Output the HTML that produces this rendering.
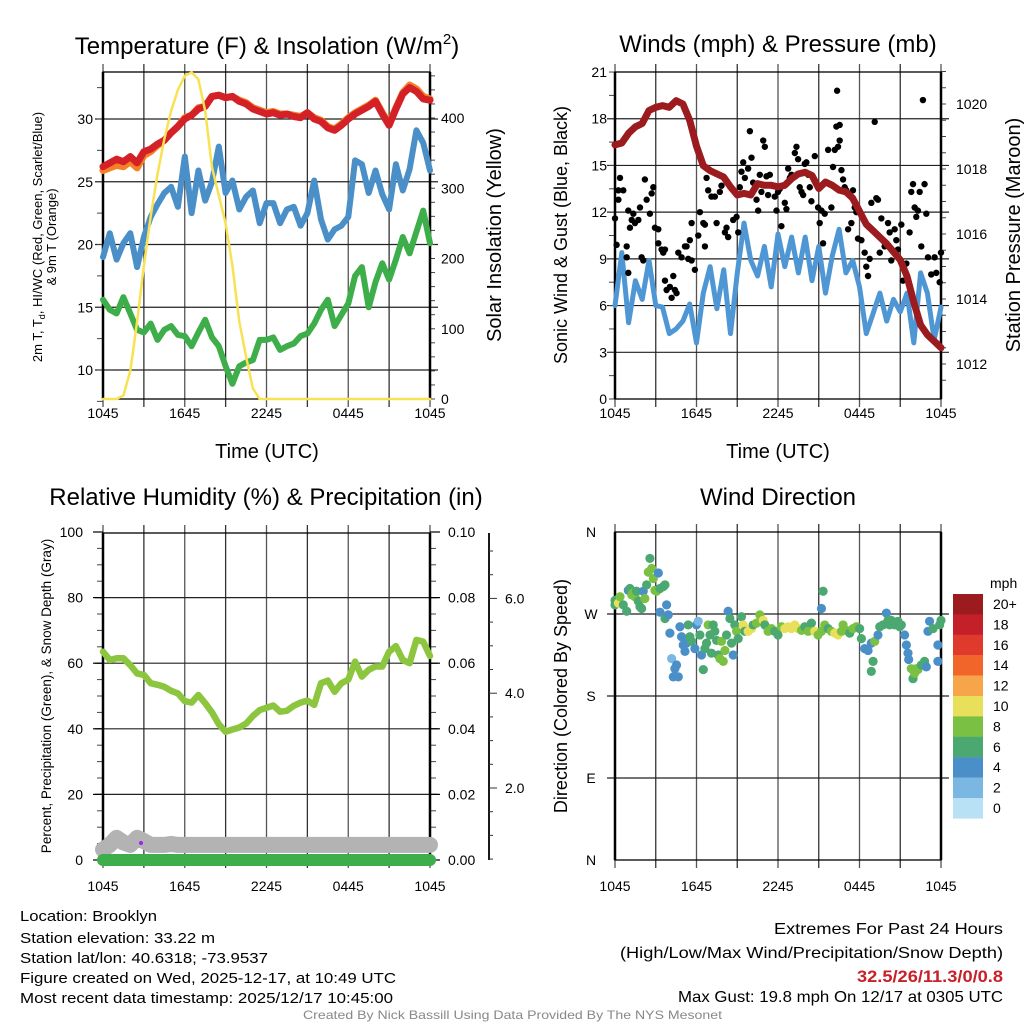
<!DOCTYPE html>
<html><head><meta charset="utf-8"><style>
html,body{margin:0;padding:0;background:#fff;}
svg{display:block;font-family:"Liberation Sans",Arial,sans-serif;}
</style></head><body>
<svg id="chart" width="1024" height="1024" viewBox="0 0 1024 1024" xmlns="http://www.w3.org/2000/svg">
<rect x="0" y="0" width="1024" height="1024" fill="#fff"/>
<text x="267" y="54" font-size="24" text-anchor="middle">Temperature (F) &amp; Insolation (W/m<tspan font-size="15" dy="-10">2</tspan><tspan dy="10">)</tspan></text>
<text x="778" y="52" font-size="24" text-anchor="middle">Winds (mph) &amp; Pressure (mb)</text>
<text x="266" y="505" font-size="24" text-anchor="middle">Relative Humidity (%) &amp; Precipitation (in)</text>
<text x="778" y="505" font-size="24" text-anchor="middle">Wind Direction</text>
<text x="267" y="458" font-size="20" text-anchor="middle">Time (UTC)</text>
<text x="778" y="458" font-size="20" text-anchor="middle">Time (UTC)</text>
<text transform="rotate(-90 42 237)" x="42" y="237" font-size="13" text-anchor="middle">2m T, T<tspan font-size="9" dy="3">d</tspan><tspan dy="-3">, HI/WC (Red, Green, Scarlet/Blue)</tspan></text>
<text transform="rotate(-90 56 237)" x="56" y="237" font-size="13" text-anchor="middle">&amp; 9m T (Orange)</text>
<text transform="rotate(-90 501 235)" x="501" y="235" font-size="20" text-anchor="middle">Solar Insolation (Yellow)</text>
<text transform="rotate(-90 567 235)" x="567" y="235" font-size="18" text-anchor="middle">Sonic Wind &amp; Gust (Blue, Black)</text>
<text transform="rotate(-90 1020 235)" x="1020" y="235" font-size="20" text-anchor="middle">Station Pressure (Maroon)</text>
<text transform="rotate(-90 51 696)" x="51" y="696" font-size="13.5" text-anchor="middle">Percent, Precipitation (Green), &amp; Snow Depth (Gray)</text>
<text transform="rotate(-90 567 696)" x="567" y="696" font-size="18" text-anchor="middle">Direction (Colored By Speed)</text>
<text x="20" y="921" font-size="15" textLength="137" lengthAdjust="spacingAndGlyphs">Location: Brooklyn</text>
<text x="20" y="943" font-size="15" textLength="195" lengthAdjust="spacingAndGlyphs">Station elevation: 33.22 m</text>
<text x="20" y="963" font-size="15" textLength="248" lengthAdjust="spacingAndGlyphs">Station lat/lon: 40.6318; -73.9537</text>
<text x="20" y="983" font-size="15" textLength="376" lengthAdjust="spacingAndGlyphs">Figure created on Wed, 2025-12-17, at 10:49 UTC</text>
<text x="20" y="1003" font-size="15" textLength="373" lengthAdjust="spacingAndGlyphs">Most recent data timestamp: 2025/12/17 10:45:00</text>
<text x="774" y="934" font-size="16" textLength="229" lengthAdjust="spacingAndGlyphs">Extremes For Past 24 Hours</text>
<text x="620" y="958" font-size="16" textLength="383" lengthAdjust="spacingAndGlyphs">(High/Low/Max Wind/Precipitation/Snow Depth)</text>
<text x="857" y="982" font-size="17" font-weight="bold" fill="#c8202a" textLength="146" lengthAdjust="spacingAndGlyphs">32.5/26/11.3/0/0.8</text>
<text x="678" y="1002" font-size="16" textLength="325" lengthAdjust="spacingAndGlyphs">Max Gust: 19.8 mph On 12/17 at 0305 UTC</text>
<text x="303" y="1019" font-size="12" fill="#888" textLength="419" lengthAdjust="spacingAndGlyphs">Created By Nick Bassill Using Data Provided By The NYS Mesonet</text>
</svg>
<script>
// ---------- data ----------
const timeLabels = ["1045","1645","2245","0445","1045"];
const tempTicks = [10,15,20,25,30];
const insolTicks = [0,100,200,300,400];
const windTicks = [0,3,6,9,12,15,18,21];
const presTicks = [1012,1014,1016,1018,1020];
const rhTicks = [0,20,40,60,80,100];
const precipTicks = ["0.00","0.02","0.04","0.06","0.08","0.10"];
const snowTicks = [2,4,6];
const dirTicks = ["N","E","S","W","N"];
// half-hourly series (index i -> i/2 hours after 1045 UTC)
const temp2m = [26.2,26.5,26.8,26.6,27.0,26.5,27.4,27.6,28.0,28.3,28.9,29.4,30.0,30.3,30.8,31.0,31.8,31.9,31.7,31.8,31.4,31.2,30.8,30.6,30.4,30.5,30.3,30.4,30.2,30.1,30.5,30.0,29.8,29.3,29.1,29.5,30.0,30.4,30.7,31.0,31.4,30.4,29.5,30.8,32.0,32.5,32.2,31.6,31.5];
const temp9m = [25.9,26.1,26.3,26.2,26.6,26.1,27.1,27.4,27.9,28.3,28.9,29.4,30.1,30.3,30.9,31.0,31.8,31.9,31.7,31.8,31.5,31.3,30.9,30.7,30.5,30.6,30.4,30.4,30.3,30.2,30.5,30.1,29.9,29.4,29.2,29.6,30.1,30.5,30.8,31.1,31.5,30.5,29.6,30.9,32.1,32.7,32.4,31.8,31.6];
const heatWindChill = [19.0,20.9,18.8,20.1,20.9,18.2,20.6,22.2,23.2,24.1,24.6,23.0,27.0,22.5,25.9,23.5,25.0,27.8,24.1,25.1,22.8,23.8,24.3,21.7,23.3,23.3,21.7,22.8,23.0,21.5,22.5,25.1,22.0,20.4,21.2,21.5,22.2,26.7,26.4,24.1,25.9,24.0,22.8,26.4,24.3,26.0,29.1,28.1,25.9];
const dewpoint = [15.6,14.8,14.5,15.8,14.5,13.2,13.0,13.7,12.4,13.2,13.5,12.8,12.7,11.9,13.0,14.0,12.6,11.9,10.3,8.9,10.3,10.6,10.8,12.4,12.4,12.6,11.6,11.9,12.1,12.7,12.9,13.7,14.8,15.6,13.5,14.4,15.3,17.5,18.2,15.0,17.0,18.5,17.2,18.8,20.6,19.3,21.0,22.7,20.1];
const insolation = [0,0,0,5,40,110,190,260,320,370,410,440,460,465,455,410,330,290,250,190,110,60,15,0,0,0,0,0,0,0,0,0,0,0,0,0,0,0,0,0,0,0,0,0,0,0,0,0,0];
const windSpeed = [6.0,9.4,4.9,7.6,6.4,8.9,6.0,5.9,4.2,4.5,5.0,6.1,3.6,6.8,8.5,5.8,8.3,4.2,8.1,11.3,8.9,7.9,9.8,7.2,10.6,8.5,10.4,8.1,10.4,7.6,9.8,6.8,9.2,10.9,8.1,8.9,7.2,4.2,5.5,6.8,5.0,6.4,5.6,6.8,3.6,8.1,6.8,3.8,5.9];
const pressure = [1018.74,1018.8,1019.1,1019.3,1019.4,1019.8,1019.9,1019.95,1019.9,1020.1,1020.0,1019.5,1018.7,1018.1,1017.95,1017.85,1017.75,1017.45,1017.2,1017.25,1017.2,1017.55,1017.5,1017.5,1017.45,1017.5,1017.7,1017.85,1017.9,1017.8,1017.4,1017.6,1017.5,1017.35,1017.3,1017.1,1016.7,1016.3,1016.1,1015.9,1015.7,1015.45,1015.2,1014.7,1013.9,1013.2,1012.9,1012.7,1012.5];
const gustHours = [0,0.12,0.25,0.37,0.25,0.61,0.98,0.86,0.86,0.98,1.1,1.23,1.35,1.47,1.72,1.84,1.96,2.08,2.2,2.33,2.57,2.7,2.82,2.94,3.19,3.19,3.43,3.55,3.68,3.68,3.8,4.04,4.17,4.29,4.41,4.53,4.66,4.9,5.15,5.27,5.39,5.51,5.64,5.64,5.88,6.13,6.25,6.5,6.62,6.62,6.74,6.86,7.1,7.35,7.48,7.72,7.84,8.09,8.21,8.33,8.7,8.95,9.07,9.19,9.31,9.44,9.56,9.8,9.93,10.05,10.17,10.42,10.54,10.66,10.78,10.91,11.03,11.15,11.27,11.4,11.76,11.89,12.0,12.13,12.25,12.5,12.62,12.75,12.87,12.99,13.24,13.36,13.48,13.6,13.73,13.85,13.97,14.09,14.22,14.34,14.46,14.71,14.95,15.07,15.2,15.32,15.44,15.69,15.93,16.05,16.18,16.3,16.35,16.42,16.54,16.54,16.67,16.79,16.91,17.03,17.16,17.4,17.52,17.65,17.77,17.89,18.14,18.38,18.5,18.63,18.75,18.87,19.12,19.24,19.36,19.49,19.61,19.85,20.1,20.22,20.34,20.59,20.71,20.83,21.08,21.2,21.45,21.69,21.81,21.94,22.06,22.18,22.3,22.43,22.55,22.67,22.79,22.92,23.04,23.28,23.53,23.65,23.9,24.0];
const gustMph = [11.6,9.9,13.4,14.2,12.8,13.4,12.1,9.8,9.1,8.1,11.0,11.5,11.9,11.3,11.5,12.3,9.1,8.9,14.1,12.8,11.9,13.2,13.6,11.0,10.9,10.0,9.6,9.4,9.6,7.6,7.0,7.2,6.5,7.9,7.0,6.8,9.4,9.1,9.8,9.8,9.0,10.2,11.3,8.9,8.3,10.5,12.0,11.3,9.8,11.2,14.2,13.4,13.0,13.0,11.3,13.3,13.7,10.7,11.0,10.4,11.5,11.7,10.7,13.6,14.6,15.2,14.2,14.8,17.2,15.5,13.9,12.8,12.1,14.4,13.3,16.6,16.2,14.3,13.1,14.4,13.0,12.1,13.3,13.5,11.1,12.6,12.2,14.8,14.2,14.4,15.8,16.2,15.4,13.6,13.3,13.1,15.1,15.2,14.4,13.6,12.7,15.6,12.3,11.3,12.1,10.0,11.9,16.0,12.3,14.9,16.0,17.5,19.8,16.2,17.6,16.6,14.7,14.1,13.6,13.4,10.9,11.3,13.4,12.3,12.0,10.3,10.2,9.4,8.5,7.9,9.0,12.6,17.8,12.9,12.8,9.4,11.6,9.8,11.3,10.7,8.9,10.9,10.2,9.6,11.2,7.6,8.7,10.7,13.3,13.8,12.3,11.7,12.1,13.3,9.8,19.2,13.8,11.9,9.1,8.0,9.1,8.1,7.5,9.4];
const humidity = [63.5,61.0,61.5,61.5,59.4,56.9,56.4,53.9,53.4,52.8,51.6,50.8,48.4,48.0,50.3,47.8,45.0,41.4,39.1,39.8,40.4,41.6,43.9,45.7,46.4,47.1,45.2,45.5,47.0,48.0,48.6,47.3,53.9,54.7,51.3,53.9,55.0,60.5,55.9,58.0,59.0,59.0,63.5,65.2,61.0,60.0,67.1,66.6,62.2];
const snowDepth = [0.7,0.8,0.95,0.85,0.8,0.95,0.88,0.8,0.8,0.8,0.82,0.8,0.8,0.8,0.8,0.8,0.8,0.8,0.8,0.8,0.8,0.8,0.8,0.8,0.8,0.8,0.8,0.8,0.8,0.8,0.8,0.8,0.8,0.8,0.8,0.8,0.8,0.8,0.8,0.8,0.8,0.8,0.8,0.8,0.8,0.8,0.8,0.8,0.8];
const precip = [0,0,0,0,0,0,0,0,0,0,0,0,0,0,0,0,0,0,0,0,0,0,0,0,0,0,0,0,0,0,0,0,0,0,0,0,0,0,0,0,0,0,0,0,0,0,0,0,0];
const dirHours = [0,0,0.25,0.37,0.61,0.86,0.98,1.1,1.23,1.35,1.47,1.59,1.72,1.84,1.96,2.08,2.2,2.33,2.45,2.57,2.7,2.82,2.94,3.06,3.19,3.31,3.55,3.68,3.31,3.8,3.68,3.92,4.04,4.17,4.41,4.53,4.29,4.66,4.78,4.9,5.02,5.15,5.27,5.39,5.51,5.64,5.88,6.0,6.13,6.25,6.37,6.5,6.62,6.74,6.86,6.99,7.1,7.23,7.35,7.48,7.6,7.72,7.84,7.97,8.09,8.21,8.33,8.46,8.58,8.7,8.82,8.95,9.07,9.31,9.44,9.56,9.8,10.05,10.17,10.42,10.66,10.91,11.03,11.27,11.52,11.76,12.0,12.25,12.5,12.75,12.99,13.24,13.48,13.73,13.97,14.22,14.46,14.71,14.95,15.2,15.32,15.2,15.44,15.69,15.93,16.18,16.42,16.67,16.79,17.03,17.28,17.52,17.77,18.01,18.14,18.38,18.63,18.87,19.0,18.87,19.12,19.36,19.49,19.73,19.98,20.1,20.22,20.34,20.59,20.83,20.96,21.08,21.32,21.45,21.57,21.62,21.81,21.94,22.06,22.18,22.3,22.55,22.79,22.92,23.04,23.16,23.41,23.77,23.77,23.9,24.0];
const dirDeg = [280,285,282,289,280,273,296,298,291,293,289,295,284,278,276,295,287,302,316,331,320,309,296,295,315,298,300,302,272,280,265,269,249,221,210,214,201,201,256,245,236,229,238,258,245,240,232,258,262,247,225,209,232,238,258,247,227,258,251,241,225,221,240,218,230,247,273,265,238,225,258,251,243,267,258,251,251,254,258,260,269,263,258,251,254,251,247,256,254,256,254,258,254,252,256,251,260,251,247,251,295,276,258,254,251,249,247,251,258,252,249,254,256,254,243,232,230,238,218,207,240,247,256,258,271,263,258,263,258,262,256,258,247,236,227,220,210,199,205,210,209,214,218,212,251,262,254,236,218,258,263];
const dirSpeed = [6.5,6.5,10.5,8.5,6.5,6.5,4.5,6.5,8.5,8.5,8.5,6.5,6.5,6.5,6.5,4.5,8.5,6.5,8.5,6.5,8.5,8.5,8.5,8.5,4.5,6.5,6.5,6.5,4.5,4.5,6.5,4.5,4.5,2.5,4.5,4.5,4.5,4.5,4.5,4.5,4.5,4.5,4.5,6.5,6.5,6.5,4.5,4.5,2.5,6.5,4.5,6.5,6.5,6.5,8.5,6.5,6.5,6.5,6.5,6.5,6.5,8.5,8.5,8.5,8.5,6.5,4.5,6.5,6.5,4.5,6.5,8.5,6.5,6.5,10.5,6.5,10.5,10.5,6.5,8.5,8.5,10.5,6.5,8.5,8.5,6.5,6.5,8.5,10.5,10.5,10.5,10.5,10.5,8.5,6.5,8.5,6.5,10.5,8.5,8.5,6.5,4.5,8.5,6.5,8.5,10.5,10.5,8.5,8.5,8.5,6.5,8.5,8.5,6.5,6.5,4.5,4.5,4.5,6.5,6.5,8.5,4.5,6.5,6.5,4.5,6.5,6.5,6.5,6.5,6.5,6.5,6.5,4.5,4.5,4.5,4.5,8.5,6.5,8.5,8.5,8.5,6.5,6.5,4.5,4.5,4.5,6.5,4.5,4.5,6.5,6.5];
const speedBinLabels = ["20+","18","16","14","12","10","8","6","4","2","0"];
const speedBinColors = ["#9b1b1e","#c3202a","#e03a2d","#f2652a","#f7a54a","#e8e05a","#7ac143","#4aa870","#4a8fc7","#7ab8e3","#b8e1f5"];

// ---------- helpers ----------
const NS = "http://www.w3.org/2000/svg";
const svg = document.getElementById('chart');
function mk(tag, attrs, parent){
  const e = document.createElementNS(NS, tag);
  for (const k in attrs) e.setAttribute(k, attrs[k]);
  (parent || svg).appendChild(e);
  return e;
}
const P1 = {L:103,R:430,T:72,B:399};
const P2 = {L:615,R:941,T:72,B:399};
const P3 = {L:103,R:430,T:533,B:860};
const P4 = {L:615,R:941,T:532,B:860};
function xH(p, h){ return p.L + h/24*(p.R-p.L); }
const tempY = v => 370 - (v-10)*12.55;
const insolY = v => 399 - v*0.7025;
const windY = v => 399 - v*15.57;
const presY = v => 364 - (v-1012)*32.5;
const rhY = v => 860 - v*3.28;
const precipY = v => 860 - v*3280;
const snowY = v => 882.8 - v*47.4;
const dirY = v => 860 - v*328/360;

function frame(p, name){
  const g = mk('g', {});
  
  
  for (let k=0;k<=8;k++){
    const x = p.L + k*(p.R-p.L)/8;
    const l = mk('line', {x1:x,x2:x,y1:p.T-8,y2:p.B+8,stroke:(k%2? '#333':'#555'),'stroke-width':1.3}, g);
    
    
  }
  return g;
}
function hgrid(p, g, ys){
  ys.forEach(y=>{
    const l = mk('line', {x1:p.L-8,x2:p.R+8,y1:y,y2:y,stroke:'#222','stroke-width':1.2}, g);
    
    
  });
}
function box(p, g){
  const b = mk('rect', {x:p.L,y:p.T,width:p.R-p.L,height:p.B-p.T,fill:'none',stroke:'#000','stroke-width':1.3}, g);
  
  
  const a1 = mk('line', {x1:p.L,x2:p.L,y1:p.T,y2:p.B,stroke:'#000','stroke-width':2.5}, g);
  
  
  const a2 = mk('line', {x1:p.R,x2:p.R,y1:p.T,y2:p.B,stroke:'#000','stroke-width':2.5}, g);
  
  
}
function timeTickLabels(p, g, yb){
  timeLabels.forEach((t,i)=>{
    const tx = mk('text', {x:xH(p,i*6),y:yb,'font-size':14,'text-anchor':'middle'}, g);
    tx.textContent = t;
    
    
  });
}
function label(g, x, y, txt, anchor, size){
  const t = mk('text', {x:x,y:y,'font-size':size||14,'text-anchor':anchor}, g);
  t.textContent = txt;
  
  
  return t;
}
function minorTicks(g, x, y1, y2, n, dir, len){
  for (let k=0;k<=n;k++){
    const y = y1 + k*(y2-y1)/n;
    const l = mk('line', {x1:x,x2:x+dir*len,y1:y,y2:y,stroke:'#444','stroke-width':1}, g);
    
    
  }
}
function seriesPath(g, p, vals, yf, color, w, name){
  const d = vals.map((v,i)=>(i?'L':'M')+xH(p,i/2).toFixed(1)+','+yf(v).toFixed(1)).join('');
  const path = mk('path', {d:d,fill:'none',stroke:color,'stroke-width':w,'stroke-linejoin':'round','stroke-linecap':'round'}, g);
  
  
}

// ---------- panel 1: temperature ----------
const g1 = frame(P1, 'temperature-panel');
hgrid(P1, g1, tempTicks.map(tempY));
minorTicks(g1, P1.L, tempY(7.5), tempY(32.5), 10, -1, 6);
minorTicks(g1, P1.R, insolY(0), insolY(460), 23, 1, 5);
box(P1, g1);
tempTicks.forEach(v=>label(g1, 93, tempY(v)+5, String(v), 'end'));
insolTicks.forEach(v=>label(g1, 441, insolY(v)+5, String(v), 'start'));
timeTickLabels(P1, g1, 418);
seriesPath(g1, P1, temp9m, tempY, '#f58025', 7, 'temp-9m-line');
seriesPath(g1, P1, temp2m, tempY, '#d42027', 7, 'temp-2m-line');
seriesPath(g1, P1, heatWindChill, tempY, '#4a8fc7', 6, 'wind-chill-line');
seriesPath(g1, P1, dewpoint, tempY, '#3dae49', 6, 'dewpoint-line');
seriesPath(g1, P1, insolation, insolY, '#f9e154', 2.5, 'insolation-line');

// ---------- panel 2: winds ----------
const g2 = frame(P2, 'winds-panel');
hgrid(P2, g2, windTicks.slice(1,7).map(windY));
minorTicks(g2, P2.L, windY(0), windY(21), 14, -1, 6);
minorTicks(g2, P2.R, presY(1011.5), presY(1021), 19, 1, 5);
box(P2, g2);
windTicks.forEach(v=>label(g2, 607, windY(v)+5, String(v), 'end'));
presTicks.forEach(v=>label(g2, 956, presY(v)+5, String(v), 'start'));
timeTickLabels(P2, g2, 418);
seriesPath(g2, P2, windSpeed, windY, '#4f97d4', 5, 'wind-speed-line');
gustHours.forEach((h,i)=>{
  const c = mk('circle', {cx:xH(P2,h),cy:windY(gustMph[i]),r:3.2,fill:'#000'}, g2);
  
  
});
seriesPath(g2, P2, pressure, presY, '#9b1b1e', 7, 'pressure-line');

// ---------- panel 3: humidity ----------
const g3 = frame(P3, 'humidity-panel');
hgrid(P3, g3, rhTicks.slice(1,5).map(rhY));
minorTicks(g3, P3.L, rhY(0), rhY(100), 20, -1, 6);
minorTicks(g3, P3.R, rhY(0), rhY(100), 20, 1, 6);
box(P3, g3);
rhTicks.forEach(v=>{
  label(g3, 83, rhY(v)+5, String(v), 'end');
  const l = mk('line', {x1:P3.L-10,x2:P3.L,y1:rhY(v),y2:rhY(v),stroke:'#000','stroke-width':1.2}, g3);
  
  
  const r = mk('line', {x1:P3.R,x2:P3.R+10,y1:rhY(v),y2:rhY(v),stroke:'#000','stroke-width':1.2}, g3);
  
  
});
precipTicks.forEach(v=>label(g3, 448, precipY(parseFloat(v))+5, v, 'start'));
const snowAxis = mk('line', {x1:489,x2:489,y1:P3.T,y2:P3.B,stroke:'#000','stroke-width':1.8}, g3);


for (let s=0.5;s<=7.4;s+=0.5){
  const major = Math.abs(s-Math.round(s/2)*2)<0.01;
  const l = mk('line', {x1:489,x2:489+(major?8:4),y1:snowY(s),y2:snowY(s),stroke:'#333','stroke-width':1}, g3);
  
  
}
snowTicks.forEach(v=>label(g3, 505, snowY(v)+5, v.toFixed(1), 'start'));
timeTickLabels(P3, g3, 891);
seriesPath(g3, P3, snowDepth, snowY, '#b3b3b3', 16, 'snow-depth-line');
seriesPath(g3, P3, precip, precipY, '#3dae49', 12, 'precipitation-line');
seriesPath(g3, P3, humidity, rhY, '#8cc63f', 6.5, 'humidity-line');
const pdot = mk('circle', {cx:141,cy:843,r:2,fill:'#a020f0'}, g3);



// ---------- panel 4: wind direction ----------
const g4 = frame(P4, 'wind-direction-panel');
hgrid(P4, g4, [90,180,270].map(dirY));
box(P4, g4);
dirTicks.forEach((t,i)=>label(g4, 591, dirY(i*90)+5, t, 'middle'));
timeTickLabels(P4, g4, 891);
function speedColor(s){
  const idx = Math.min(10, Math.floor(s/2));
  return speedBinColors[10-idx];
}
dirHours.forEach((h,i)=>{
  const c = mk('circle', {cx:xH(P4,h),cy:dirY(dirDeg[i]),r:4.6,fill:speedColor(dirSpeed[i])}, g4);
  
  
});
// colorbar
const cb = mk('g', {});


const cbt = mk('text', {x:990,y:588,'font-size':14}, cb);
cbt.textContent = 'mph';


speedBinLabels.forEach((lab,i)=>{
  const y = 594 + i*20.4;
  const r = mk('rect', {x:953,y:y,width:30,height:20.6,fill:speedBinColors[i]}, cb);
  
  
  const t = mk('text', {x:993,y:y+15,'font-size':14}, cb);
  t.textContent = lab;
  
  
});
</script>
</body></html>
